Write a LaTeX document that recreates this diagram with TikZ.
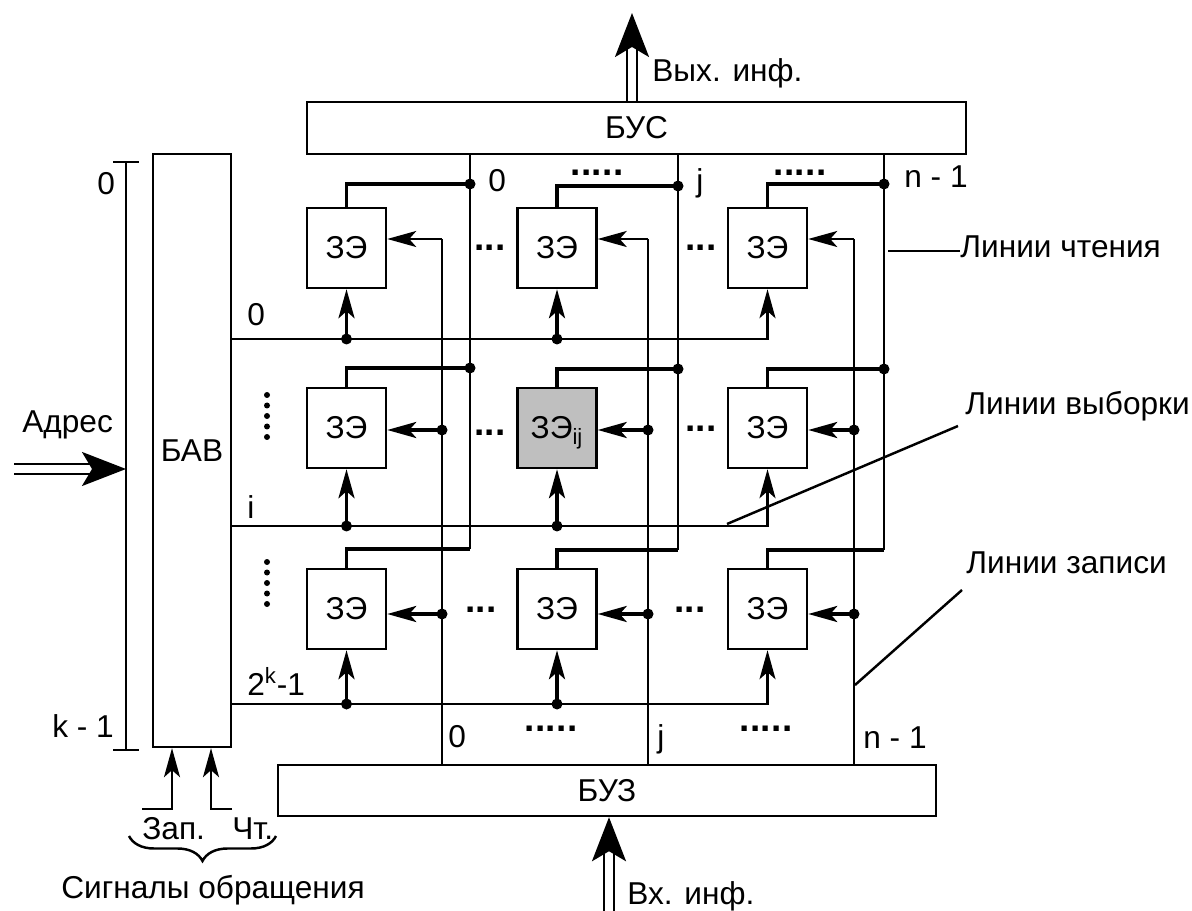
\documentclass[tikz,border=0pt]{standalone}
\usepackage{fontspec}
\setmainfont{Liberation Sans}
\usetikzlibrary{arrows.meta,positioning,decorations.pathreplacing}
\tikzstyle{block} = [rectangle, draw=black, line width=1.4pt, inner sep=0pt]
\tikzstyle{cell} = [block, minimum width=1.58cm, minimum height=1.6cm]
\tikzstyle{lbl} = [inner sep=0pt, anchor=base west]
\tikzstyle{ln} = [line width=1.4pt]
\tikzstyle{wln} = [line width=2.1pt]
\tikzstyle{arr} = [-{Stealth[length=0.58cm,width=0.32cm,inset=0.14cm]}]
\tikzstyle{bigarr} = [line width=1.4pt, double, double distance=0.16cm, -{Stealth[length=0.88cm,width=0.68cm,inset=0.2cm]}]
\newcommand{\threedots}{\textbf{\fontsize{21}{21}\selectfont.\kern0.3pt.\kern0.3pt.}}
\newcommand{\fivedots}{\textbf{\fontsize{21}{21}\selectfont.\kern0.3pt.\kern0.3pt.\kern0.3pt.\kern0.3pt.}}
\newcommand{\jdot}[1]{\fill (#1) circle (0.11cm)}

\begin{document}
\begin{tikzpicture}[x=0.02cm, y=-0.02cm, font=\fontsize{18}{21}\selectfont]
    \useasboundingbox (0,0) rectangle (1192,911);

    % blocks
    \node (bus) [block, minimum width=13.18cm, minimum height=1.04cm] at (636.5,128) {БУС};
    \node (bav) [block, minimum width=1.56cm, minimum height=11.86cm] at (192,450.5) {БАВ};
    \node (buz) [block, minimum width=13.16cm, minimum height=1.02cm] at (607,790.5) {БУЗ};

    % storage cells
    \node (c11) [cell] at (346.5,248) {ЗЭ};
    \node (c12) [cell] at (557,248) {ЗЭ};
    \node (c13) [cell] at (767.5,248) {ЗЭ};
    \node (c21) [cell] at (346.5,428) {ЗЭ};
    \node (c22) [cell, fill=black!25] at (557,428) {ЗЭ\smash{\textsubscript{ij}}};
    \node (c23) [cell] at (767.5,428) {ЗЭ};
    \node (c31) [cell] at (346.5,609) {ЗЭ};
    \node (c32) [cell] at (557,609) {ЗЭ};
    \node (c33) [cell] at (767.5,609) {ЗЭ};

    % read lines
    \coordinate (r0a) at (470,184); \coordinate (r0b) at (470,368); \coordinate (r0c) at (470,549);
    \coordinate (r1a) at (678,186); \coordinate (r1b) at (678,369); \coordinate (r1c) at (678,550);
    \coordinate (r2a) at (884,184); \coordinate (r2b) at (884,369); \coordinate (r2c) at (884,550);
    \draw[ln] (r0c) -- (r0c |- bus.south);
    \draw[ln] (r1c) -- (r1c |- bus.south);
    \draw[ln] (r2c) -- (r2c |- bus.south);
    \draw[wln] (c11.north) |- (r0a);
    \draw[wln] (c21.north) |- (r0b);
    \draw[wln] (c31.north) |- (r0c);
    \draw[wln] (c12.north) |- (r1a);
    \draw[wln] (c22.north) |- (r1b);
    \draw[wln] (c32.north) |- (r1c);
    \draw[wln] (c13.north) |- (r2a);
    \draw[wln] (c23.north) |- (r2b);
    \draw[wln] (c33.north) |- (r2c);
    \jdot{r0a}; \jdot{r0b}; \jdot{r1a}; \jdot{r1b}; \jdot{r2a}; \jdot{r2b};

    % write lines
    \coordinate (w0a) at (442,239); \coordinate (w0b) at (442,430); \coordinate (w0c) at (442,614);
    \coordinate (w1a) at (648,239); \coordinate (w1b) at (648,430); \coordinate (w1c) at (648,614);
    \coordinate (w2a) at (854,239); \coordinate (w2b) at (854,430); \coordinate (w2c) at (854,614);
    \draw[ln] (w0a) -- (w0a |- buz.north);
    \draw[ln] (w1a) -- (w1a |- buz.north);
    \draw[ln] (w2a) -- (w2a |- buz.north);
    \draw[ln, arr] (w0a) -- (w0a -| c11.east);
    \draw[wln, arr] (w0b) -- (w0b -| c21.east);
    \draw[wln, arr] (w0c) -- (w0c -| c31.east);
    \draw[ln, arr] (w1a) -- (w1a -| c12.east);
    \draw[wln, arr] (w1b) -- (w1b -| c22.east);
    \draw[wln, arr] (w1c) -- (w1c -| c32.east);
    \draw[ln, arr] (w2a) -- (w2a -| c13.east);
    \draw[wln, arr] (w2b) -- (w2b -| c23.east);
    \draw[wln, arr] (w2c) -- (w2c -| c33.east);
    \jdot{w0b}; \jdot{w0c}; \jdot{w1b}; \jdot{w1c}; \jdot{w2b}; \jdot{w2c};

    % select lines
    \coordinate (s0) at (bav.east |- 0,339);
    \coordinate (s1) at (bav.east |- 0,526);
    \coordinate (s2) at (bav.east |- 0,704);
    \draw[ln, arr] (s0) -| (c13.south);
    \draw[ln, arr] (s1) -| (c23.south);
    \draw[ln, arr] (s2) -| (c33.south);
    \draw[wln, arr] (s0 -| c11.south) -- (c11.south);
    \draw[wln, arr] (s0 -| c12.south) -- (c12.south);
    \draw[wln, arr] (s1 -| c21.south) -- (c21.south);
    \draw[wln, arr] (s1 -| c22.south) -- (c22.south);
    \draw[wln, arr] (s2 -| c31.south) -- (c31.south);
    \draw[wln, arr] (s2 -| c32.south) -- (c32.south);
    \jdot{s0 -| c11.south}; \jdot{s0 -| c12.south};
    \jdot{s1 -| c21.south}; \jdot{s1 -| c22.south};
    \jdot{s2 -| c31.south}; \jdot{s2 -| c32.south};

    % row gaps (vertical dots)
    \fill (267,395) circle (0.06cm) (267,405.5) circle (0.06cm) (267,416) circle (0.06cm)
          (267,426.5) circle (0.06cm) (267,437) circle (0.06cm);
    \fill (267,562) circle (0.06cm) (267,572.5) circle (0.06cm) (267,583) circle (0.06cm)
          (267,593.5) circle (0.06cm) (267,604) circle (0.06cm);

    % address scale and inputs
    \coordinate (brt) at (126,162);
    \coordinate (brb) at (126,750);
    \draw[ln] (brt) -- (brb);
    \draw[ln] ([xshift=-0.26cm]brt) -- ([xshift=0.26cm]brt);
    \draw[ln] ([xshift=-0.26cm]brb) -- ([xshift=0.26cm]brb);
    \coordinate (adr) at (14,469);
    \draw[bigarr] (adr) -- (adr -| brt);
    \coordinate (out) at (632,13);
    \draw[bigarr] (bus.north -| out) -- (out);
    \coordinate (inp) at (609,911);
    \draw[bigarr] (inp) -- (inp |- buz.south);
    \coordinate (zp) at (142,809);
    \coordinate (ct) at (232,809);
    \draw[ln, arr] (zp) -| (bav.south -| 172,0);
    \draw[ln, arr] (ct) -| (bav.south -| 211,0);
    \draw[ln, decorate, decoration={brace, mirror, amplitude=0.5cm}] (129,836) -- (276,836);

    % labels
    \node (tout) [lbl] at (652,82) {Вых. инф.};
    \node (tin) [lbl] at (627,904) {Вх. инф.};
    \node (tadr) [lbl] at (22,433) {Адрес};
    \node (tk0) [lbl] at (97,195) {0};
    \node (tk1) [lbl] at (52,737) {k - 1};
    \node (tr0) [lbl] at (488,192) {0};
    \node (tr1) [lbl] at (696,192) {j};
    \node (tr2) [lbl] at (904,188) {n - 1};
    \node (tw0) [lbl] at (448,747) {0};
    \node (tw1) [lbl] at (657,747) {j};
    \node (tw2) [lbl] at (863,748) {n - 1};
    \node (ts0) [lbl] at (247,326) {0};
    \node (ts1) [lbl] at (247,518) {i};
    \node (ts2) [lbl] at (247,695) {2\textsuperscript{k}-1};
    \node (tzap) [lbl] at (142,839) {Зап.};
    \node (tcht) [lbl] at (232,839) {Чт.};
    \node (tsig) [anchor=base] at (213,898) {Сигналы обращения};

    % dots
    \node (d1) at (490,248) {\threedots};
    \node (d2) at (701,248) {\threedots};
    \node (d3) at (490,433) {\threedots};
    \node (d4) at (701,429) {\threedots};
    \node (d5) at (481,610) {\threedots};
    \node (d6) at (690,610) {\threedots};
    \node (d7) at (597,173) {\fivedots};
    \node (d8) at (800,173) {\fivedots};
    \node (d9) at (551,729) {\fivedots};
    \node (d10) at (766,729) {\fivedots};

    % annotations
    \coordinate (lrd) at (888,251);
    \node (trd) [lbl] at (960,258) {Линии чтения};
    \draw[ln] (lrd) -- (lrd -| trd.west);
    \node (tsel) [lbl] at (965,415) {Линии выборки};
    \coordinate (lse1) at (958,426);
    \coordinate (lse2) at (727,524);
    \draw[ln] (lse1) -- (lse2);
    \node (twr) [lbl] at (966,573) {Линии записи};
    \coordinate (lwr1) at (962,590);
    \coordinate (lwr2) at (855,685);
    \draw[ln] (lwr1) -- (lwr2);
\end{tikzpicture}
\end{document}
